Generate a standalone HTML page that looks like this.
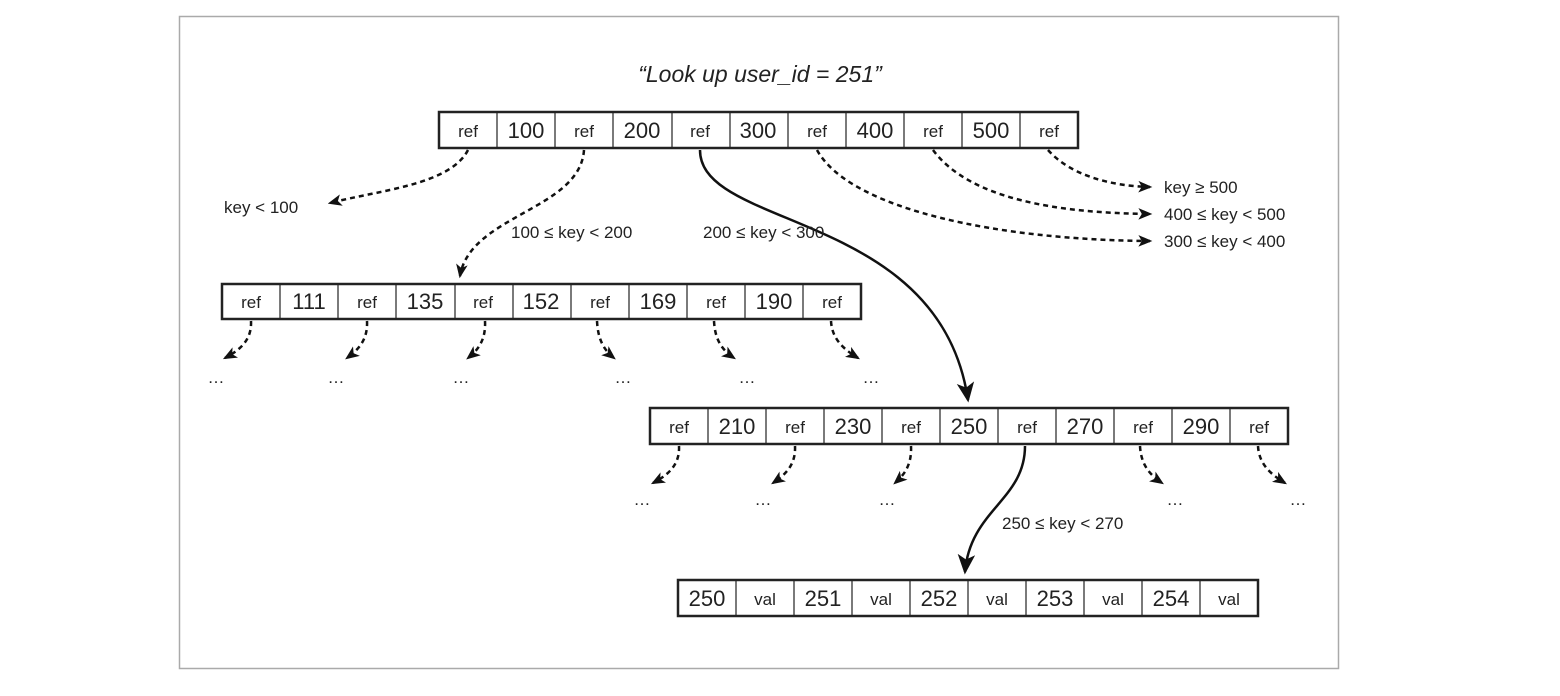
<!DOCTYPE html>
<html><head><meta charset="utf-8"><style>
html,body{margin:0;padding:0;background:#fff;}
svg{display:block;}
text{font-family:"Liberation Sans",sans-serif;fill:#222;}
.r{font-size:17px;}
.n{font-size:22px;}
.l{font-size:17px;}
</style></head><body>
<svg width="1560" height="696" viewBox="0 0 1560 696" xmlns="http://www.w3.org/2000/svg">
<defs>
<marker id="a" viewBox="0 0 12 10" refX="10" refY="5" markerWidth="14" markerHeight="12" markerUnits="userSpaceOnUse" orient="auto">
<path d="M0,0 L12,5 L0,10 L3,5 z" fill="#111"/></marker>
<marker id="b" viewBox="0 0 16 14" refX="14" refY="7" markerWidth="20" markerHeight="18" markerUnits="userSpaceOnUse" orient="auto">
<path d="M0,0 L16,7 L0,14 L4,7 z" fill="#111"/></marker>
</defs>
<rect x="179.5" y="16.5" width="1159" height="652" fill="#fff" stroke="#aaa" stroke-width="1.5"/>
<text x="760" y="82" text-anchor="middle" font-style="italic" font-size="23">“Look up user_id = 251”</text>

<g fill="#fff" stroke="#222" stroke-width="1.2">
<rect x="439" y="112" width="639" height="36" stroke-width="2.5"/>
<path d="M497,112v36M555,112v36M613,112v36M672,112v36M730,112v36M788,112v36M846,112v36M904,112v36M962,112v36M1020,112v36"/>
<rect x="222" y="284" width="639" height="35" stroke-width="2.5"/>
<path d="M280,284v35M338,284v35M396,284v35M455,284v35M513,284v35M571,284v35M629,284v35M687,284v35M745,284v35M803,284v35"/>
<rect x="650" y="408" width="638" height="36" stroke-width="2.5"/>
<path d="M708,408v36M766,408v36M824,408v36M882,408v36M940,408v36M998,408v36M1056,408v36M1114,408v36M1172,408v36M1230,408v36"/>
<rect x="678" y="580" width="580" height="36" stroke-width="2.5"/>
<path d="M736,580v36M794,580v36M852,580v36M910,580v36M968,580v36M1026,580v36M1084,580v36M1142,580v36M1200,580v36"/>
</g>

<g text-anchor="middle">
<text class="r" x="468" y="137">ref</text><text class="n" x="526" y="138">100</text>
<text class="r" x="584" y="137">ref</text><text class="n" x="642" y="138">200</text>
<text class="r" x="700" y="137">ref</text><text class="n" x="758" y="138">300</text>
<text class="r" x="817" y="137">ref</text><text class="n" x="875" y="138">400</text>
<text class="r" x="933" y="137">ref</text><text class="n" x="991" y="138">500</text>
<text class="r" x="1049" y="137">ref</text>

<text class="r" x="251" y="308">ref</text><text class="n" x="309" y="309">111</text>
<text class="r" x="367" y="308">ref</text><text class="n" x="425" y="309">135</text>
<text class="r" x="483" y="308">ref</text><text class="n" x="541" y="309">152</text>
<text class="r" x="600" y="308">ref</text><text class="n" x="658" y="309">169</text>
<text class="r" x="716" y="308">ref</text><text class="n" x="774" y="309">190</text>
<text class="r" x="832" y="308">ref</text>

<text class="r" x="679" y="433">ref</text><text class="n" x="737" y="434">210</text>
<text class="r" x="795" y="433">ref</text><text class="n" x="853" y="434">230</text>
<text class="r" x="911" y="433">ref</text><text class="n" x="969" y="434">250</text>
<text class="r" x="1027" y="433">ref</text><text class="n" x="1085" y="434">270</text>
<text class="r" x="1143" y="433">ref</text><text class="n" x="1201" y="434">290</text>
<text class="r" x="1259" y="433">ref</text>

<text class="n" x="707" y="606">250</text><text class="r" x="765" y="605">val</text>
<text class="n" x="823" y="606">251</text><text class="r" x="881" y="605">val</text>
<text class="n" x="939" y="606">252</text><text class="r" x="997" y="605">val</text>
<text class="n" x="1055" y="606">253</text><text class="r" x="1113" y="605">val</text>
<text class="n" x="1171" y="606">254</text><text class="r" x="1229" y="605">val</text>
</g>

<g fill="none" stroke="#111" stroke-width="2.5" stroke-dasharray="5,4">
<path d="M468,150 C450,185 380,190 330,203" marker-end="url(#a)"/>
<path d="M584,150 C580,210 470,215 460,276" marker-end="url(#a)"/>
<path d="M817,150 C850,210 1000,240 1150,241" marker-end="url(#a)"/>
<path d="M933,150 C970,200 1060,213 1150,214" marker-end="url(#a)"/>
<path d="M1048,150 C1070,175 1110,186 1150,187" marker-end="url(#a)"/>

<path d="M251,321 C252,340 240,350 225,358" marker-end="url(#a)"/>
<path d="M367,321 C368,340 358,350 347,358" marker-end="url(#a)"/>
<path d="M485,321 C486,340 478,350 468,358" marker-end="url(#a)"/>
<path d="M597,321 C598,340 604,350 614,358" marker-end="url(#a)"/>
<path d="M714,321 C715,340 722,350 734,358" marker-end="url(#a)"/>
<path d="M831,321 C832,340 845,350 858,358" marker-end="url(#a)"/>

<path d="M679,446 C680,465 668,475 653,483" marker-end="url(#a)"/>
<path d="M795,446 C796,465 785,475 773,483" marker-end="url(#a)"/>
<path d="M911,446 C912,465 904,475 895,483" marker-end="url(#a)"/>
<path d="M1140,446 C1141,465 1150,475 1162,483" marker-end="url(#a)"/>
<path d="M1258,446 C1259,465 1272,475 1285,483" marker-end="url(#a)"/>
</g>
<g fill="none" stroke="#111" stroke-width="2.5">
<path d="M700,150 C700,230 940,210 968,400" marker-end="url(#b)"/>
<path d="M1025,446 C1025,500 970,510 965,572" marker-end="url(#b)"/>
</g>

<g class="l">
<text class="l" x="224" y="213">key &lt; 100</text>
<text class="l" x="511" y="238">100 ≤ key &lt; 200</text>
<text class="l" x="703" y="238">200 ≤ key &lt; 300</text>
<text class="l" x="1164" y="193">key ≥ 500</text>
<text class="l" x="1164" y="220">400 ≤ key &lt; 500</text>
<text class="l" x="1164" y="247">300 ≤ key &lt; 400</text>
<text class="l" x="1002" y="529">250 ≤ key &lt; 270</text>
</g>
<g font-size="17" text-anchor="middle">
<text x="216" y="383">…</text><text x="336" y="383">…</text><text x="461" y="383">…</text>
<text x="623" y="383">…</text><text x="747" y="383">…</text><text x="871" y="383">…</text>
<text x="642" y="505">…</text><text x="763" y="505">…</text><text x="887" y="505">…</text>
<text x="1175" y="505">…</text><text x="1298" y="505">…</text>
</g>
</svg>
</body></html>
